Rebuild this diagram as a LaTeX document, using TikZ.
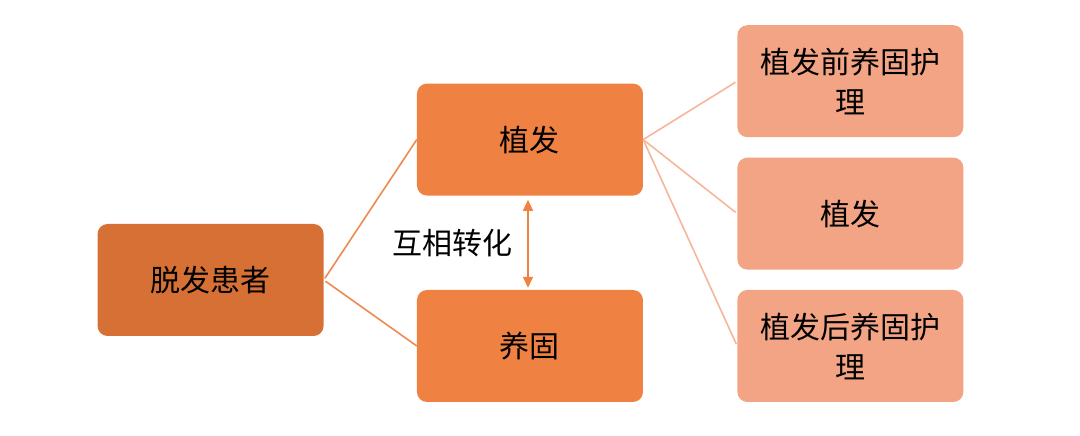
\documentclass[tikz,border=0pt]{standalone}
\usepackage{fontspec}
\newfontfamily\cjk{Noto Sans CJK SC}
\usepackage{tikz}
\usetikzlibrary{positioning}
\usetikzlibrary{arrows.meta}

\definecolor{darkorange}{HTML}{D77034}
\definecolor{midorange}{HTML}{EF8142}
\definecolor{lightorange}{HTML}{F3A485}
\definecolor{linkorange}{HTML}{EE8A50}
\definecolor{linklight}{HTML}{F5B69A}

\tikzset{
    box/.style={rounded corners=10pt, minimum width=226pt, minimum height=112pt,
        inner sep=0pt, align=center, font=\cjk\fontsize{30pt}{40pt}\selectfont},
    rootbox/.style={box, fill=darkorange},
    midbox/.style={box, fill=midorange},
    leafbox/.style={box, fill=lightorange},
    link/.style={draw=linkorange, line width=1.6pt, shorten <=2pt},
    leaflink/.style={draw=linklight, line width=1.6pt, shorten >=2pt},
    twoway/.style={draw=midorange, line width=1.4pt, {Triangle[length=11pt,width=10pt]}-{Triangle[length=11pt,width=10pt]}, shorten <=4pt, shorten >=2pt},
    tag/.style={font=\cjk\fontsize{30pt}{36pt}\selectfont, inner sep=0pt}
}

\begin{document}
\begin{tikzpicture}
    \useasboundingbox (-530pt,-90pt) rectangle (550pt,346pt);

    \node [midbox] (care) at (0,0) {养固};
    \node [midbox, above=94pt of care] (implant) {植发};
    \node [rootbox, left=93pt of care, yshift=66pt] (patient) {脱发患者};

    \node [leafbox, right=94pt of care] (after) {植发后养固护\\理};
    \node [leafbox, above=20pt of after] (surgery) {植发};
    \node [leafbox, above=20pt of surgery] (before) {植发前养固护\\理};

    \draw [link] (patient.east) -- (implant.west);
    \draw [link] (patient.east) -- (care.west);

    \draw [leaflink] (implant.east) -- (before.west);
    \draw [leaflink] (implant.east) -- (surgery.west);
    \draw [leaflink] (implant.east) -- (after.west);

    \draw [twoway] ([xshift=-2pt]implant.south) -- node [tag, midway, left=15pt] (swap) {互相转化} ([xshift=-2pt]care.north);
\end{tikzpicture}
\end{document}
